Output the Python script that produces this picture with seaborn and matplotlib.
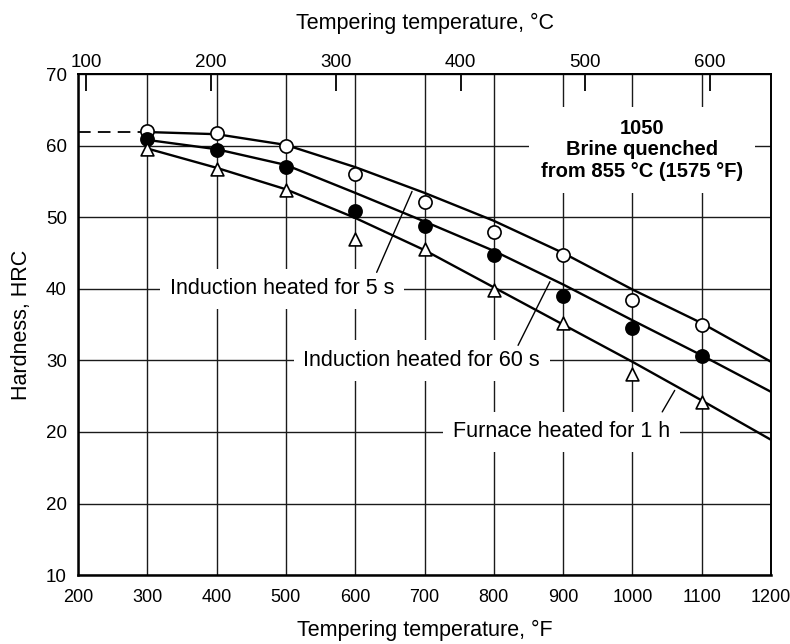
import pandas as pd
import seaborn as sns
import matplotlib.pyplot as plt

# measured points (tempering temperature in F)
temps_f = [300, 400, 500, 600, 700, 800, 900, 1000, 1100]
hrc_5s = [62.1, 61.7, 59.9, 56.0, 52.1, 48.0, 44.7, 38.4, 35.0]
hrc_60s = [60.9, 59.4, 57.0, 50.9, 48.8, 44.7, 39.0, 34.5, 30.6]
hrc_1h = [59.5, 56.8, 53.8, 47.0, 45.6, 39.8, 35.2, 28.1, 24.2]

# drawn trend curves
curve_f = [300, 400, 500, 600, 700, 800, 900, 1000, 1100, 1200]
curve_5s = [61.9, 61.6, 60.1, 57.0, 53.4, 49.5, 45.0, 39.9, 35.2, 29.8]
curve_60s = [60.8, 59.5, 57.3, 53.4, 49.4, 45.3, 40.6, 35.6, 30.7, 25.6]
curve_1h = [59.6, 56.9, 53.9, 49.9, 45.4, 40.2, 35.0, 29.8, 24.4, 18.9]

dash_f = [200, 300]
dash_hrc = [61.9, 61.9]

x_ticks = [200, 300, 400, 500, 600, 700, 800, 900, 1000, 1100, 1200]
y_ticks = [0, 10, 20, 30, 40, 50, 60, 70]
y_tick_labels = ['10', '20', '20', '30', '40', '50', '60', '70']
c_ticks = [100, 200, 300, 400, 500, 600]

sns.set_theme(style='white', rc={'axes.edgecolor': 'black', 'text.color': 'black',
                                 'axes.labelcolor': 'black', 'xtick.color': 'black',
                                 'ytick.color': 'black'})
plt.rcParams['font.family'] = ['Liberation Sans', 'DejaVu Sans']

fig = plt.figure(figsize=(7.9, 6.44), dpi=100)
ax = fig.add_axes([0.0987, 0.107, 0.8773, 0.778])

curves = pd.DataFrame({
    'temp': curve_f * 3,
    'hrc': curve_5s + curve_60s + curve_1h,
    'series': ['5 s'] * len(curve_f) + ['60 s'] * len(curve_f) + ['1 h'] * len(curve_f),
})
sns.lineplot(data=curves, x='temp', y='hrc', units='series', estimator=None,
             sort=False, color='black', lw=1.7, ax=ax, zorder=2)
ax.plot(dash_f, dash_hrc, color='black', lw=1.3, dashes=(7, 4), zorder=2)

pts = pd.DataFrame({'temp': temps_f, 'h5': hrc_5s, 'h60': hrc_60s, 'h1': hrc_1h})
sns.scatterplot(data=pts, x='temp', y='h5', marker='o', s=90, color='white',
                edgecolor='black', linewidth=1.2, ax=ax, zorder=4)
sns.scatterplot(data=pts, x='temp', y='h60', marker='o', s=90, color='black',
                edgecolor='black', linewidth=1.2, ax=ax, zorder=4)
sns.scatterplot(data=pts, x='temp', y='h1', marker='^', s=85, color='white',
                edgecolor='black', linewidth=1.2, ax=ax, zorder=4)

ax.set_xlim(200, 1200)
ax.set_ylim(0, 70)
ax.set_xticks(x_ticks)
ax.set_yticks(y_ticks)
ax.set_yticklabels(y_tick_labels)
ax.grid(True, color='#1a1a1a', lw=1.0)
ax.set_axisbelow(True)
ax.tick_params(axis='x', length=0, pad=10, labelsize=13)
ax.tick_params(axis='y', length=0, pad=8, labelsize=13.5)
for side in ['left', 'bottom']:
    ax.spines[side].set_linewidth(1.8)
for side in ['top', 'right']:
    ax.spines[side].set_linewidth(1.4)

ax.set_xlabel('Tempering temperature, °F', fontsize=15.5, labelpad=10)
ax.set_ylabel('Hardness, HRC', fontsize=15.5, labelpad=10)

secax = ax.secondary_xaxis('top', functions=(lambda f: (f - 32) * 5 / 9,
                                              lambda c: c * 9 / 5 + 32))
secax.set_xticks(c_ticks)
secax.tick_params(direction='in', length=12, width=1.3, labelsize=13.5, pad=2)
secax.set_xlabel('Tempering temperature, °C', fontsize=15.5, labelpad=18)

box = dict(boxstyle='square,pad=0.45', fc='white', ec='none')
ax.text(494, 40, 'Induction heated for 5 s', ha='center', va='center',
        fontsize=15.5, bbox=box, zorder=3)
ax.text(696, 30, 'Induction heated for 60 s', ha='center', va='center',
        fontsize=15.5, bbox=box, zorder=3)
ax.text(898, 20, 'Furnace heated for 1 h', ha='center', va='center',
        fontsize=15.5, bbox=box, zorder=3)
ax.text(1014, 59.4, '1050\nBrine quenched\nfrom 855 °C (1575 °F)', ha='center',
        va='center', fontsize=14.5, fontweight='bold', linespacing=1.15,
        bbox=dict(boxstyle='square,pad=0.6', fc='white', ec='none'), zorder=3)

# leader lines from labels to curves
ax.plot([631, 682], [42.3, 53.6], color='black', lw=1.0, zorder=3)
ax.plot([835, 881], [32.1, 41.0], color='black', lw=1.0, zorder=3)
ax.plot([1043, 1061], [22.8, 25.8], color='black', lw=1.0, zorder=3)

fig.savefig('out.png', dpi=100)
